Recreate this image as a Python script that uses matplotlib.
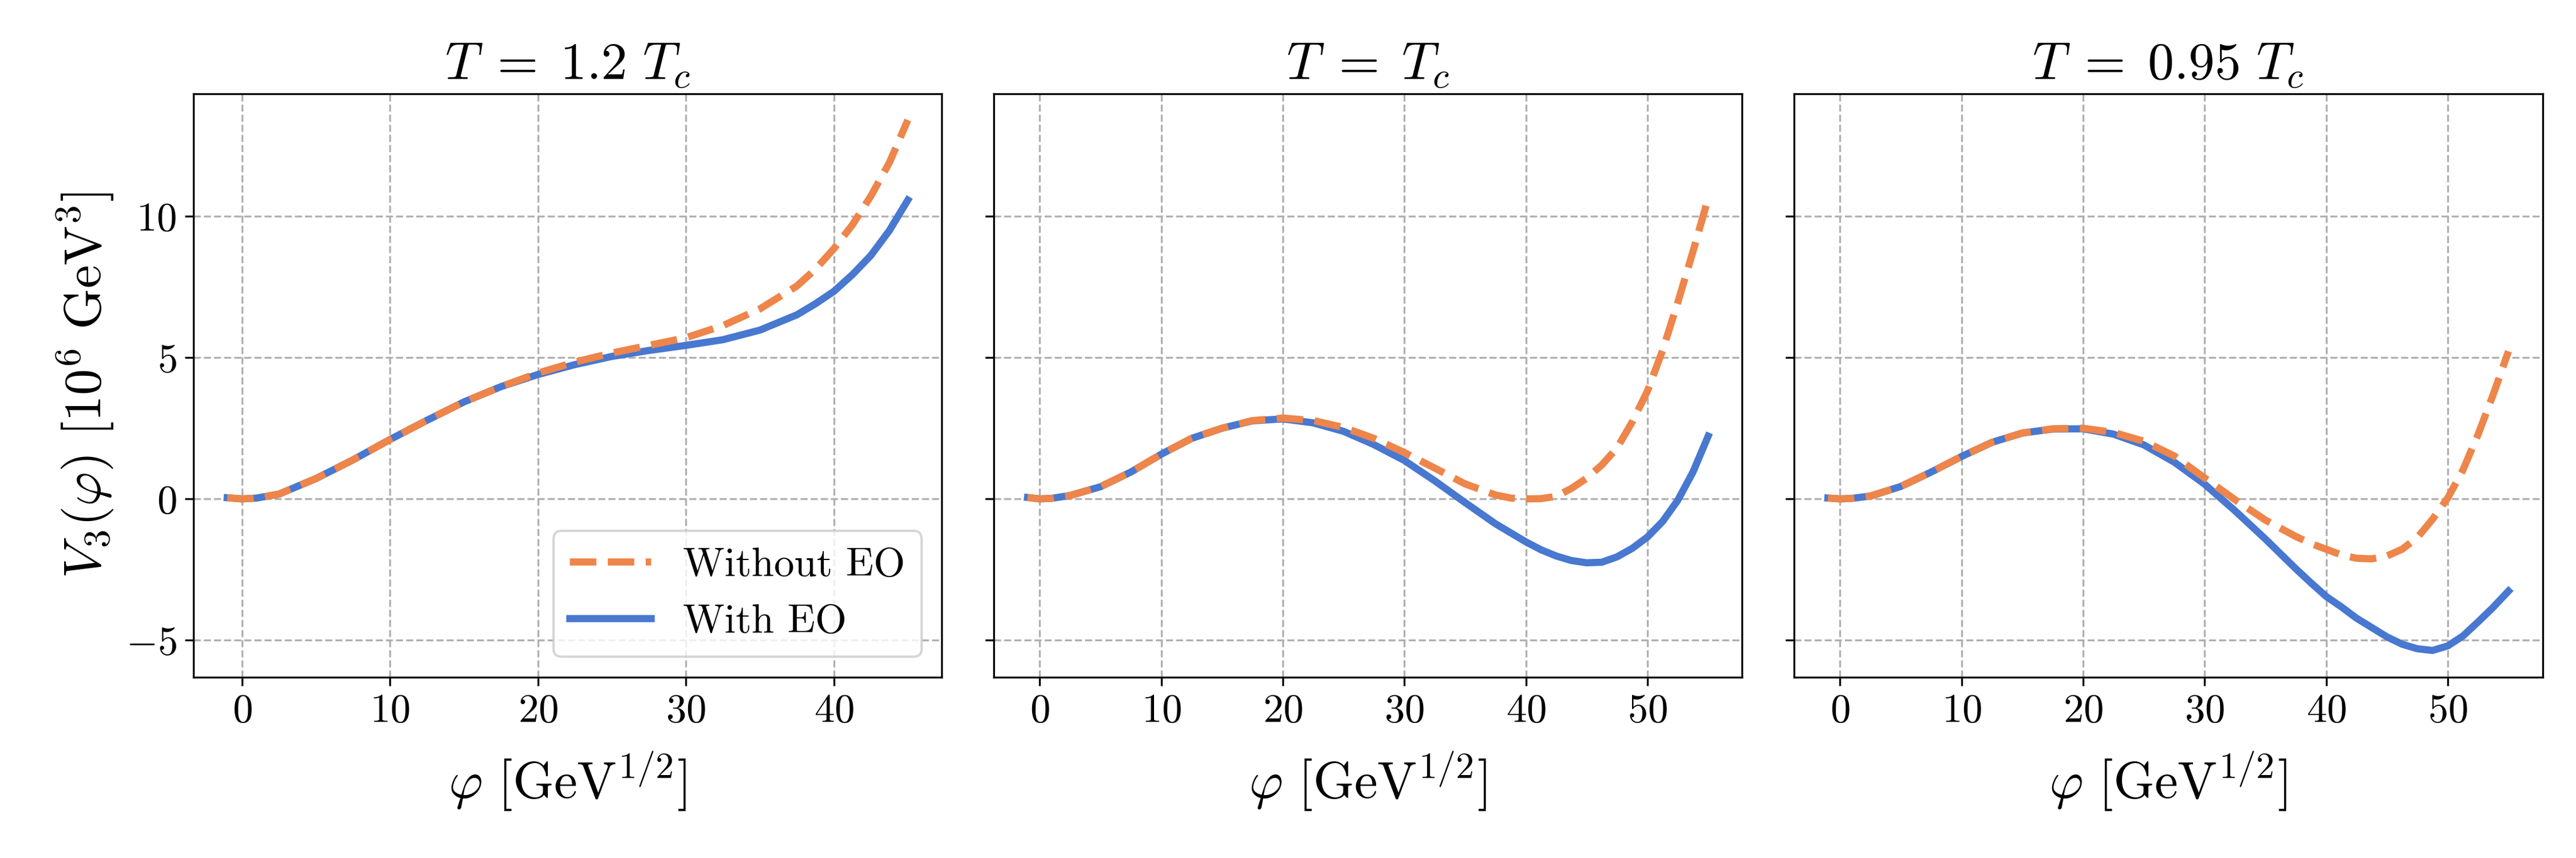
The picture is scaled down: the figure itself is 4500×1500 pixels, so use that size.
import numpy as np
import matplotlib
matplotlib.use("Agg")
import matplotlib.pyplot as plt
from matplotlib.ticker import MultipleLocator

plt.rcParams['font.family'] = 'serif'
plt.rcParams['font.serif'] = ['cmr10']
plt.rcParams['mathtext.fontset'] = 'cm'
plt.rcParams['axes.formatter.use_mathtext'] = True
plt.rcParams['axes.unicode_minus'] = True

# field values phi [GeV^1/2]
phi_12 = [-1, 0, 1, 2.5, 5, 7.5, 10, 12.5, 15, 17.5, 20, 22.5, 25, 27.5, 30,
          32.5, 35, 37.5, 38.75, 40, 41.25, 42.5, 43.75, 45]
phi_10 = [-1, 0, 1, 2.5, 5, 7.5, 10, 12.5, 15, 17.5, 20, 22.5, 25, 27.5, 30,
          32.5, 35, 37.5, 38.75, 40, 41.25, 42.5, 43.75, 45, 46.25, 47.5,
          48.75, 50, 51.25, 52.5, 53.75, 55]
phi_095 = phi_10

# V_3 [10^6 GeV^3], T = 1.2 Tc
v12_no_eo = [0.04, 0.0, 0.03, 0.17, 0.72, 1.38, 2.1, 2.78, 3.43, 3.97, 4.45,
             4.84, 5.16, 5.43, 5.7, 6.13, 6.72, 7.53, 8.12, 8.85, 9.69, 10.71,
             11.89, 13.4]
v12_eo = [0.04, 0.0, 0.03, 0.17, 0.72, 1.38, 2.1, 2.78, 3.43, 3.97, 4.4,
          4.75, 5.04, 5.25, 5.43, 5.63, 5.97, 6.51, 6.9, 7.34, 7.93, 8.61,
          9.49, 10.57]

# T = Tc
v10_no_eo = [0.05, 0.0, 0.02, 0.12, 0.43, 0.95, 1.58, 2.14, 2.5, 2.77, 2.86,
             2.77, 2.53, 2.14, 1.64, 1.09, 0.53, 0.14, 0.03, 0.0, 0.01, 0.09,
             0.37, 0.73, 1.2, 1.8, 2.72, 3.81, 5.25, 6.95, 8.75, 10.63]
v10_eo = [0.05, 0.0, 0.02, 0.12, 0.43, 0.95, 1.58, 2.14, 2.5, 2.76, 2.83,
          2.69, 2.39, 1.92, 1.36, 0.64, -0.13, -0.88, -1.2, -1.52, -1.8,
          -2.02, -2.18, -2.26, -2.24, -2.05, -1.75, -1.35, -0.8, -0.05, 0.95,
          2.22]

# T = 0.95 Tc
v095_no_eo = [0.03, 0.0, 0.02, 0.1, 0.44, 0.95, 1.5, 2.0, 2.33, 2.48, 2.5,
              2.35, 2.04, 1.52, 0.74, -0.03, -0.75, -1.33, -1.58, -1.78,
              -1.98, -2.1, -2.12, -2.02, -1.78, -1.37, -0.72, 0.03, 1.02,
              2.28, 3.7, 5.22]
v095_eo = [0.03, 0.0, 0.02, 0.1, 0.44, 0.95, 1.5, 2.0, 2.33, 2.47, 2.48,
           2.29, 1.91, 1.3, 0.52, -0.42, -1.42, -2.47, -2.97, -3.45, -3.82,
           -4.22, -4.55, -4.88, -5.14, -5.3, -5.36, -5.2, -4.85, -4.35,
           -3.83, -3.26]

titles = [r'$T\;=\;1.2\ T_c$', r'$T\;=\;T_c$', r'$T\;=\;0.95\ T_c$']
panels = [(phi_12, v12_no_eo, v12_eo),
          (phi_10, v10_no_eo, v10_eo),
          (phi_095, v095_no_eo, v095_eo)]

orange = '#ee854a'
blue = '#4878d0'

fig, axes = plt.subplots(1, 3, figsize=(15, 5), sharey=True, dpi=300)
fig.subplots_adjust(left=0.075, right=0.987, bottom=0.211, top=0.891, wspace=0.069)

for ax, (x, v_no, v_eo), title in zip(axes, panels, titles):
    ax.plot(x, v_no, '--', color=orange, lw=3, label='Without EO', zorder=3)
    ax.plot(x, v_eo, '-', color=blue, lw=3, label='With EO', zorder=2)
    ax.grid(True, linestyle='--', color='#b0b0b0')
    ax.set_title(title, fontsize=22)
    ax.set_xlabel(r'$\varphi\ [\mathrm{GeV}^{1/2}]$', fontsize=22, labelpad=8)
    ax.xaxis.set_major_locator(MultipleLocator(10))
    ax.tick_params(labelsize=17)

axes[0].set_ylabel(r'$V_3(\varphi)\ [10^6\ \mathrm{GeV}^3]$', fontsize=22)
axes[0].yaxis.set_major_locator(MultipleLocator(5))
axes[0].legend(loc='lower right', fontsize=17)

plt.savefig('out.png', dpi=300)
